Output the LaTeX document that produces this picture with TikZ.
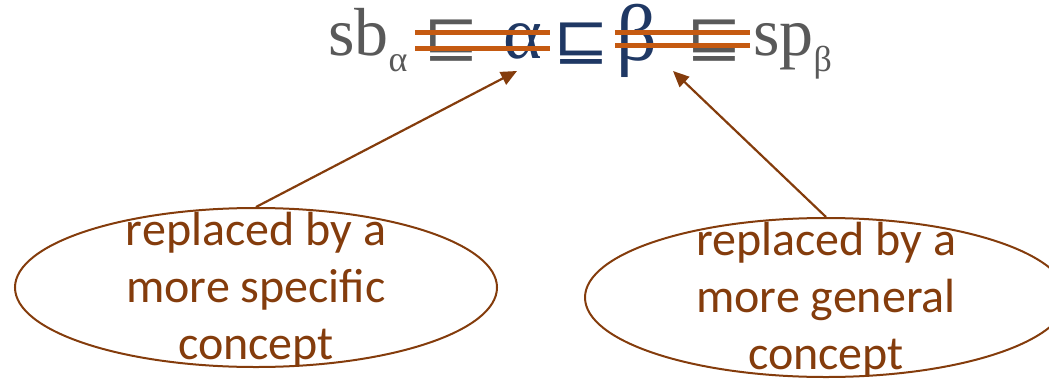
\documentclass[tikz,border=0pt]{standalone}
\usepackage{fontspec}
\setmainfont{Liberation Serif}
\newfontfamily\calib{Carlito}
\newfontfamily\symfont{DejaVu Sans}
\usetikzlibrary{arrows.meta,shapes.geometric,positioning,calc}
\definecolor{greytxt}{HTML}{595959}
\definecolor{navy}{HTML}{1F3864}
\definecolor{rust}{HTML}{C55A11}
\definecolor{bark}{HTML}{843C0C}
\newcommand{\lowsub}[1]{\raisebox{-16pt}{\fontsize{36}{36}\selectfont #1}}
\newcommand{\sqsym}{\scalebox{1.15}[1.0]{⊑}}

\begin{document}
\begin{tikzpicture}[x=1pt, y=-1pt,
  sym/.style={inner sep=0pt, anchor=base},
  grey/.style={sym, text=greytxt, font=\fontsize{68}{68}\selectfont},
  greek/.style={sym, text=navy, font=\fontsize{80}{80}\selectfont},
  rel/.style={sym, font=\symfont\fontsize{58}{58}\selectfont},
  strike/.style={draw=rust, line width=5pt},
  bubble/.style={draw=bark, line width=2pt, ellipse, inner sep=0pt,
    minimum width=482pt, minimum height=159pt},
  say/.style={text=bark, align=center, inner sep=0pt,
    font=\calib\fontsize{48}{57}\selectfont},
  arr/.style={-{Triangle[length=16pt, width=14pt]}, draw=bark, fill=bark, line width=2.2pt}
]
  \useasboundingbox (0,0) rectangle (1049,383);

  % top line of the formula
  \node[grey, anchor=base west] (sb) at (328,55) {sb\lowsub{α}};
  \node[rel, text=greytxt] (sq1) at (451,56) {\sqsym};
  \node[greek, font=\fontsize{74}{74}\selectfont] (alpha) at (523,58) {α};
  \node[rel, text=navy] (sq2) at (581,59) {\sqsym};
  \node[greek] (beta) at (637,60) {β};
  \node[rel, text=greytxt] (sq3) at (714,56) {\sqsym};
  \node[grey, anchor=base west] (sp) at (753,55) {sp\lowsub{β}};

  % struck out parts
  \draw[strike] (415,32) -- (550,32);
  \draw[strike] (415,48) -- (550,48);
  \draw[strike] (615,32) -- (750,32);
  \draw[strike] (615,45) -- (750,45);

  % callouts
  \node[bubble] (lbub) at (256,287.5) {};
  \node[say] (ltxt) at (256,290) {replaced by a\\more specific\\concept};
  \node[bubble] (rbub) at (826,297.5) {};
  \node[say] (rtxt) at (826,300) {replaced by a\\more general\\concept};

  \coordinate (atip) at (517,71);
  \coordinate (btip) at (673,71);
  \draw[arr] (lbub.north) -- (atip);
  \draw[arr] (rbub.north) -- (btip);
\end{tikzpicture}
\end{document}
